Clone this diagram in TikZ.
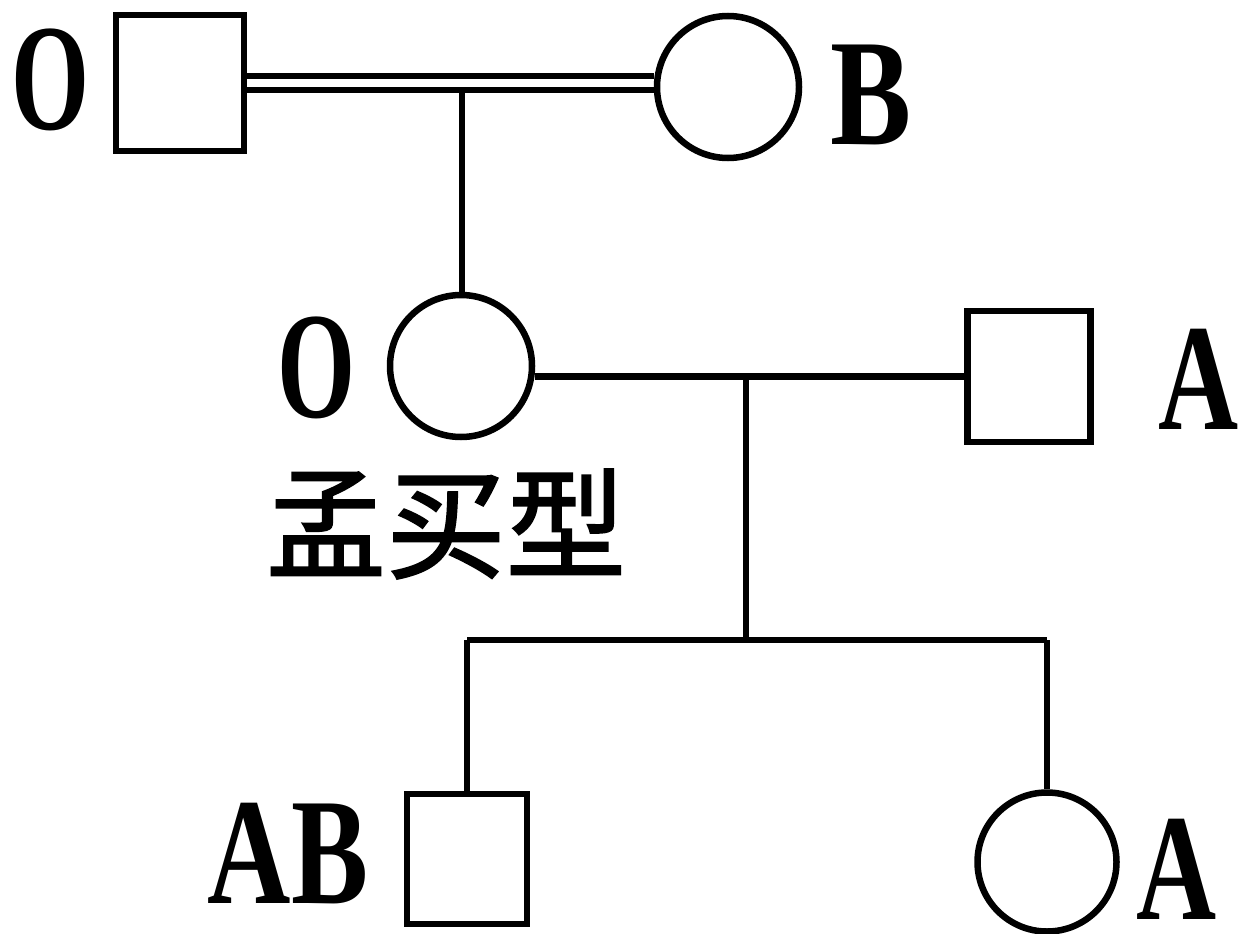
\documentclass[tikz,border=0pt]{standalone}
\usepackage{fontspec}
\setmainfont{Liberation Serif}
\newfontfamily\cjk{Noto Sans CJK SC}[FakeBold=1.5]
\begin{document}
\begin{tikzpicture}[x=1pt,y=-1pt,
  line width=6.5pt,
  male/.style={draw,rectangle,inner sep=0pt},
  female/.style={draw,circle,inner sep=0pt,minimum size=142pt},
  lab/.style={inner sep=0pt,font=\bfseries\fontsize{152}{152}\selectfont},
  cn/.style={inner sep=0pt,font=\cjk\fontsize{120}{120}\selectfont}]
\useasboundingbox (0,0) rectangle (1240,934);
% people
\node[male,minimum width=128pt,minimum height=136pt] (f1) at (180,83) {};
\node[female] (c1) at (728,87) {};
\node[female] (c2) at (461,366) {};
\node[male,minimum width=123pt,minimum height=131pt] (f2) at (1029,376.5) {};
\node[male,minimum width=120pt,minimum height=130pt] (f3) at (467,859) {};
\node[female,minimum size=139pt] (c3) at (1047,862) {};
% labels
\node[lab] (lo1) at (51,80) {\scalebox{0.66}[1]{O}};
\node[lab] (lb) at (871,95) {\scalebox{0.8}[1]{B}};
\node[lab] (lo2) at (317,368) {\scalebox{0.66}[1]{O}};
\node[lab] (la1) at (1199,379) {\scalebox{0.73}[1]{A}};
\node[lab] (lab) at (288,854) {\scalebox{0.76}[1]{AB}};
\node[lab] (la2) at (1177,869) {\scalebox{0.73}[1]{A}};
\node[cn] (mm) at (446,524) {孟买型};
% connectors
\coordinate (m1) at (462,90);
\coordinate (m2) at (746,377);
\coordinate (s) at (746,640);
\draw ([yshift=7pt]f1.east) -- ([yshift=7pt]f1.east -| c1.west);
\draw ([yshift=-7pt]f1.east) -- ([yshift=-7pt]f1.east -| c1.west);
\draw (m1) -- (m1 |- c2.north);
\draw (f2.west) -- (f2.west -| c2.east);
\draw (m2) -- (s);
\draw (s -| f3.north) -- (s -| c3.north);
\draw (s -| f3.north) -- (f3.north);
\draw (s -| c3.north) -- (c3.north);
\end{tikzpicture}
\end{document}
